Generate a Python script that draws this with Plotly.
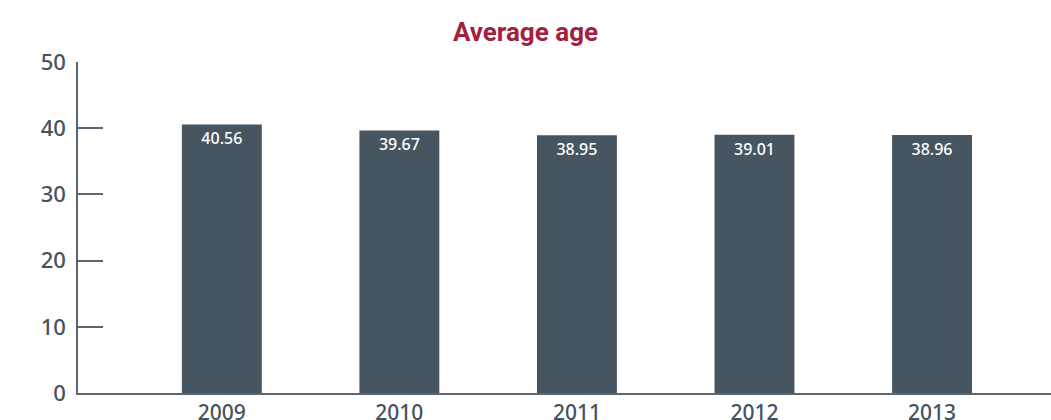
import plotly.graph_objects as go

years = ["2009", "2010", "2011", "2012", "2013"]
avg_age = [40.56, 39.67, 38.95, 39.01, 38.96]
y_ticks = [0, 10, 20, 30, 40, 50]

axis_color = "#5b6670"
bar_color = "#46555f"
label_color = "#46525c"

fig = go.Figure(
    go.Bar(
        x=years,
        y=avg_age,
        width=0.45,
        marker=dict(color=bar_color, line=dict(width=0)),
        text=[f"{v:.2f}" for v in avg_age],
        textposition="inside",
        insidetextanchor="end",
        textangle=0,
        constraintext="none",
        textfont=dict(color="white", size=16, family="Noto Sans", weight=500),
        hoverinfo="skip",
    )
)

fig.update_layout(
    width=1051,
    height=420,
    margin=dict(l=78, r=0, t=62, b=27, autoexpand=False),
    paper_bgcolor="white",
    plot_bgcolor="white",
    showlegend=False,
    title=dict(
        text="<b>Average age</b>",
        x=0.5,
        xanchor="center",
        y=0.925,
        yanchor="middle",
        font=dict(color="#a2213f", size=26, family="Roboto"),
    ),
    font=dict(family="Noto Sans", color=label_color),
)

fig.update_xaxes(
    type="category",
    range=[-0.81, 4.67],
    showline=True,
    linecolor=axis_color,
    linewidth=1.5,
    ticks="",
    showgrid=False,
    automargin=False,
    tickfont=dict(size=21, color=label_color, weight=500),
)

fig.update_yaxes(
    range=[0, 50],
    tickvals=y_ticks,
    showline=True,
    linecolor=axis_color,
    linewidth=1.5,
    ticks="inside",
    ticklen=25,
    tickcolor=axis_color,
    tickwidth=1.5,
    showgrid=False,
    zeroline=False,
    automargin=False,
    tickfont=dict(size=22, color=label_color, weight=500),
    ticklabelstandoff=6,
)

fig.write_html("out.html")
